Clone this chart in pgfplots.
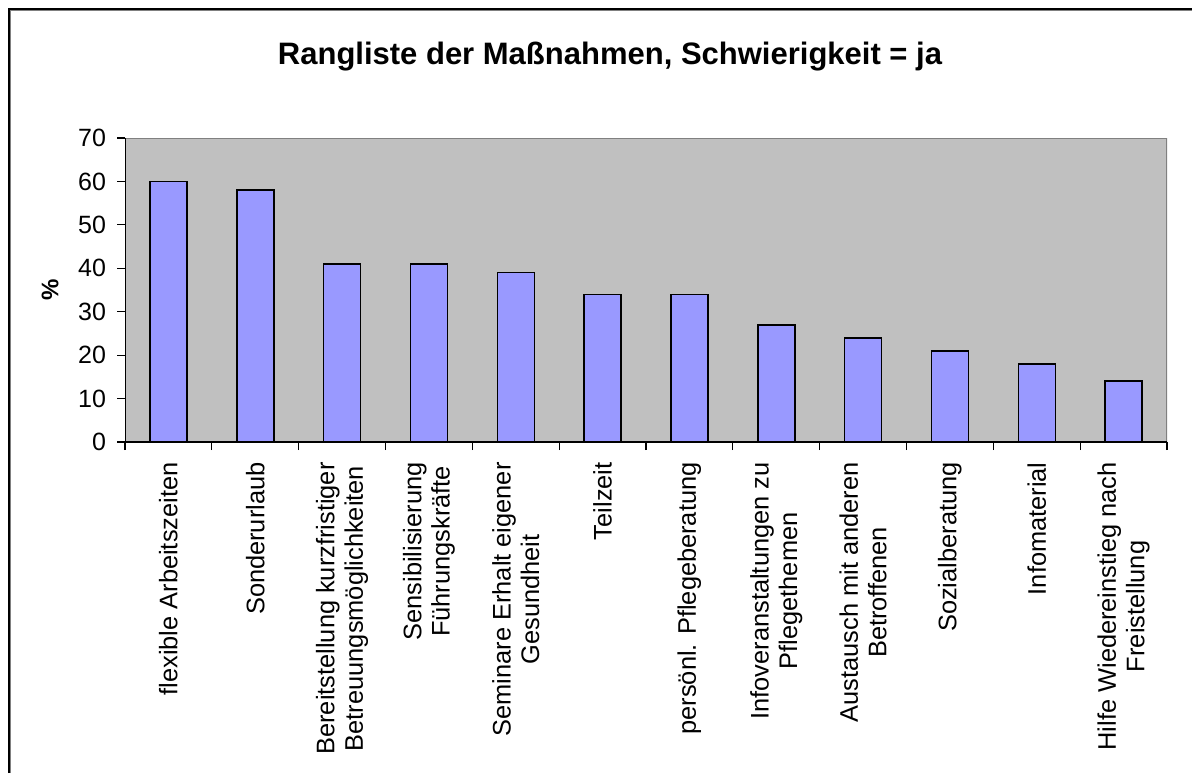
\documentclass[border=0pt]{standalone}
\usepackage{pgfplots}
\pgfplotsset{compat=1.18}
\usepackage{fontspec}
\setmainfont{Liberation Sans}
\definecolor{plotgray}{RGB}{192,192,192}
\definecolor{barblue}{RGB}{153,153,255}
\definecolor{bordergray}{RGB}{128,128,128}
\begin{document}
\begin{tikzpicture}
\path[use as bounding box] (0,0) rectangle (596pt,386.5pt);
\draw[line width=1pt] (4.25pt,0) -- (4.25pt,382pt) -- (596pt,382pt);
\draw[bordergray, line width=0.5pt] (5.25pt,0) -- (5.25pt,381pt) -- (596pt,381pt);
\node[font=\bfseries\fontsize{15.5}{17}\selectfont] at (305pt,358pt) {Rangliste der Maßnahmen, Schwierigkeit = ja};
\node[font=\bfseries\fontsize{12}{14}\selectfont, rotate=90] at (25pt,241.5pt) {\%};
\begin{axis}[
  at={(62.5pt,165.5pt)}, anchor=south west,
  scale only axis, width=521pt, height=152pt,
  xmin=-0.5, xmax=11.5, ymin=0, ymax=70,
  ytick={0,10,...,70},
  xtick={-0.5,0.5,...,11.5}, xticklabels={},
  tick align=outside, major tick length=4pt,
  xtick pos=bottom, ytick pos=left,
  tick style={black, line width=0.6pt},
  axis line style={draw=none},
  axis background/.style={fill=plotgray},
  /pgf/number format/assume math mode=true,
  yticklabel style={font=\fontsize{12.5}{14}\selectfont, xshift=-2pt},
  extra x ticks={0,1,...,11},
  extra x tick labels={
    flexible Arbeitszeiten,
    Sonderurlaub,
    {Bereitstellung kurzfristiger\\Betreuungsmöglichkeiten},
    {Sensibilisierung\\Führungskräfte},
    {Seminare Erhalt eigener\\Gesundheit},
    Teilzeit,
    persönl. Pflegeberatung,
    {Infoveranstaltungen zu\\Pflegethemen},
    {Austausch mit anderen\\Betroffenen},
    Sozialberatung,
    Infomaterial,
    {Hilfe Wiedereinstieg nach\\Freistellung}},
  extra x tick style={major tick length=0pt,
    xticklabel style={rotate=90, anchor=east, align=center,
      font=\fontsize{12.7}{14.2}\selectfont, inner sep=0pt, xshift=0pt}},
  xticklabel shift=10pt,
]
\addplot[ybar, bar width=18.5pt, fill=barblue, draw=black, line width=0.75pt]
  coordinates {(0,60) (1,58) (2,41) (3,41) (4,39) (5,34) (6,34) (7,27) (8,24) (9,21) (10,18) (11,14)};
\draw[bordergray, line width=0.6pt] (rel axis cs:0,1) -- (rel axis cs:1,1) -- (rel axis cs:1,0);
\draw[black, line width=0.6pt] (rel axis cs:0,1) -- (rel axis cs:0,0) -- (rel axis cs:1,0);
\end{axis}
\end{tikzpicture}
\end{document}
